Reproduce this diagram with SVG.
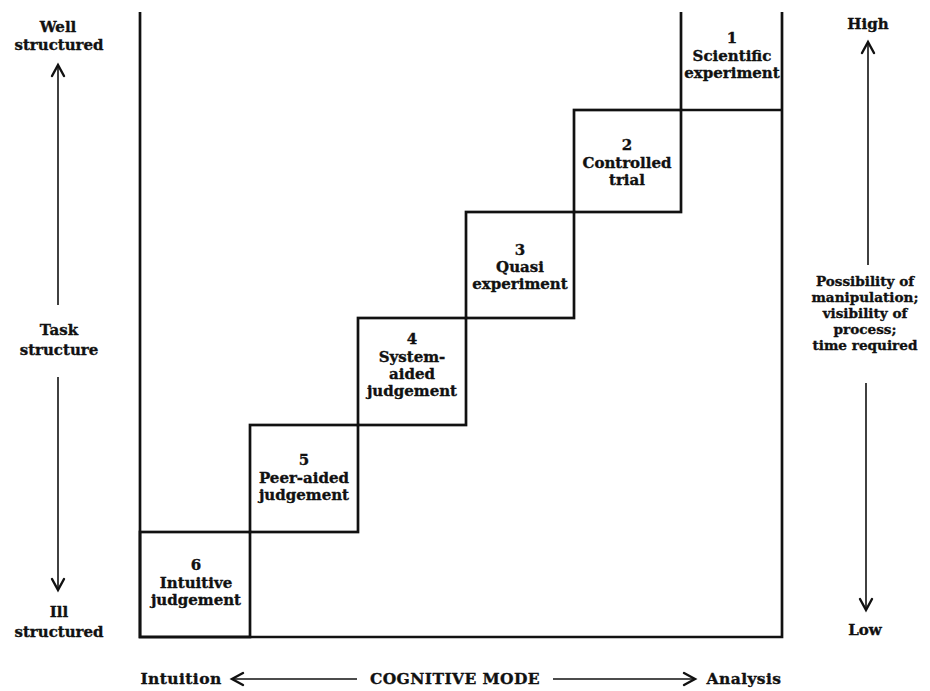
<svg xmlns="http://www.w3.org/2000/svg" width="930" height="691" viewBox="0 0 930 691">
  <style>
    .t { font-family: "DejaVu Serif", "Liberation Serif", serif; font-weight: bold; font-size: 15px; fill: #111; stroke: #111; stroke-width: 0.35; text-anchor: middle; }
    .sm { font-size: 13.6px; }
    .lg { font-size: 15.5px; letter-spacing: 0.4px; }
    .frame { fill: none; stroke: #111; stroke-width: 2.7; }
    .axis { fill: none; stroke: #111; stroke-width: 1.6; }
    .head { fill: none; stroke: #111; stroke-width: 2.4; stroke-linecap: round; stroke-linejoin: miter; }
  </style>
  <rect width="930" height="691" fill="#fff"/>

  <!-- outer frame -->
  <g id="frame">
    <path class="frame" d="M140,12 V637 H782 V12"/>
  </g>

  <!-- staircase of modes -->
  <g id="mode-6">
    <rect class="frame" x="140" y="532" width="110" height="105"/>
    <text class="t" x="196" y="570">6</text>
    <text class="t" x="196" y="588">Intuitive</text>
    <text class="t" x="196" y="605">judgement</text>
  </g>
  <g id="mode-5">
    <rect class="frame" x="250" y="425" width="108" height="107"/>
    <text class="t" x="304" y="465">5</text>
    <text class="t" x="304" y="483">Peer-aided</text>
    <text class="t" x="304" y="500">judgement</text>
  </g>
  <g id="mode-4">
    <rect class="frame" x="358" y="318" width="108" height="107"/>
    <text class="t" x="412" y="344">4</text>
    <text class="t" x="412" y="362">System-</text>
    <text class="t" x="412" y="379">aided</text>
    <text class="t" x="412" y="396">judgement</text>
  </g>
  <g id="mode-3">
    <rect class="frame" x="466" y="212" width="108" height="106"/>
    <text class="t" x="520" y="255">3</text>
    <text class="t" x="520" y="272">Quasi</text>
    <text class="t" x="520" y="289">experiment</text>
  </g>
  <g id="mode-2">
    <rect class="frame" x="574" y="110" width="107" height="102"/>
    <text class="t" x="627" y="150">2</text>
    <text class="t" x="627" y="168">Controlled</text>
    <text class="t" x="627" y="185">trial</text>
  </g>
  <g id="mode-1">
    <path class="frame" d="M681,12 V110 H782"/>
    <text class="t" x="732" y="43">1</text>
    <text class="t" x="732" y="61">Scientific</text>
    <text class="t" x="732" y="78">experiment</text>
  </g>

  <!-- axis labels -->
  <g id="task-axis">
    <text class="t" x="58" y="32">Well</text>
    <text class="t" x="59" y="50">structured</text>
    <text class="t" x="59" y="335">Task</text>
    <text class="t" x="59" y="355">structure</text>
    <text class="t" x="59" y="617">Ill</text>
    <text class="t" x="59" y="637">structured</text>
  </g>
  <g id="process-axis">
    <text class="t" x="868" y="29">High</text>
    <text class="t sm" x="865" y="286">Possibility of</text>
    <text class="t sm" x="865" y="302">manipulation;</text>
    <text class="t sm" x="865" y="318">visibility of</text>
    <text class="t sm" x="865" y="334">process;</text>
    <text class="t sm" x="865" y="350">time required</text>
    <text class="t" x="865" y="635">Low</text>
  </g>
  <g id="mode-axis">
    <text class="t lg" x="181" y="684">Intuition</text>
    <text class="t lg" x="455" y="684">COGNITIVE MODE</text>
    <text class="t lg" x="744" y="684">Analysis</text>
  </g>

  <!-- connectors (axis arrows) -->
  <g id="connectors">
    <path class="axis" d="M58,305 V66"/>
    <path class="head" d="M52,76 L58,65 L64,76"/>
    <path class="axis" d="M58,377 V589"/>
    <path class="head" d="M52,579 L58,590 L64,579"/>

    <path class="axis" d="M868,265 V43"/>
    <path class="head" d="M862,53 L868,42 L874,53"/>
    <path class="axis" d="M866,383 V609"/>
    <path class="head" d="M860,599 L866,610 L872,599"/>

    <path class="axis" d="M357,679 H233"/>
    <path class="head" d="M243,673 L232,679 L243,685"/>
    <path class="axis" d="M553,679 H694"/>
    <path class="head" d="M684,673 L695,679 L684,685"/>
  </g>
</svg>
